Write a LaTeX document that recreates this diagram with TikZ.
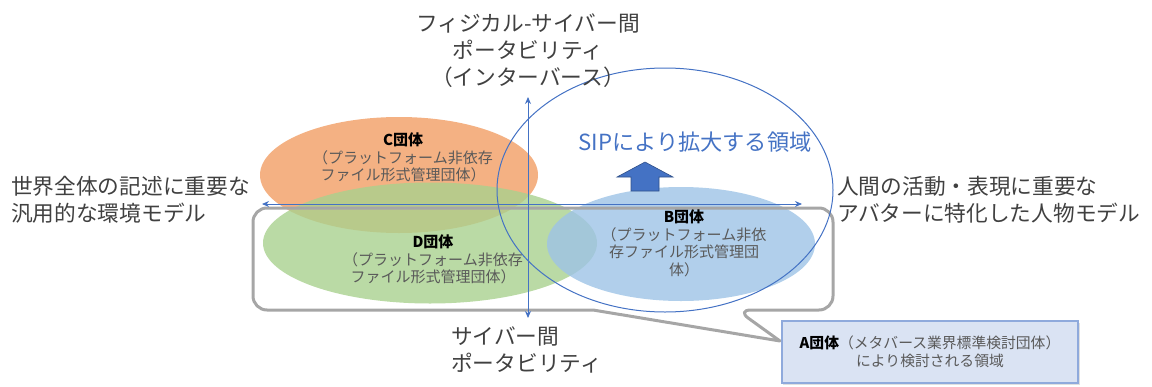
\documentclass[tikz,border=0pt]{standalone}
\usepackage{fontspec}
\setmainfont{Noto Sans CJK JP}
\usetikzlibrary{arrows.meta,shapes.geometric}
\definecolor{axisblue}{HTML}{4472C4}
\definecolor{cfill}{HTML}{F4B183}
\definecolor{dfill}{HTML}{A9D18E}
\definecolor{bfill}{HTML}{9DC3E6}
\definecolor{callgray}{HTML}{A6A6A6}
\definecolor{txt}{HTML}{404040}
\definecolor{subtxt}{HTML}{595959}
\definecolor{abox}{HTML}{DAE3F3}
\definecolor{aboxline}{HTML}{8FAADC}
\tikzset{
  blob/.style={ellipse, inner sep=0pt, draw=none},
  biglabel/.style={inner sep=0pt, text=txt, font=\fontsize{21.7}{26.5}\selectfont},
  smalllabel/.style={inner sep=0pt, text=subtxt, align=center, font=\fontsize{15}{17.6}\selectfont},
  axis/.style={draw=axisblue, line width=0.9pt, {Stealth[length=7pt,width=6pt]}-{Stealth[length=7pt,width=6pt]}},
}
\begin{document}
\begin{tikzpicture}[x=1pt,y=-1pt]
\useasboundingbox (0,0) rectangle (1152,386);
% ellipses
\node[blob, fill=cfill, minimum width=278pt, minimum height=116pt] (C) at (399,175) {};
\node[blob, fill=dfill, fill opacity=0.8, minimum width=334pt, minimum height=121pt] (D) at (430,243) {};
\node[blob, fill=bfill, fill opacity=0.8, minimum width=268pt, minimum height=114pt] (B) at (681,244) {};
% callout
\draw[callgray, line width=3pt, line join=round, line cap=round]
  (593,310) [rounded corners=14pt] -- (253,310) -- (253,208) -- (833,208) -- (833,310) -- (737,310)
  [sharp corners] -- (780,341) -- (593,310);
% SIP circle
\node[ellipse, draw=axisblue, line width=1pt, minimum width=336pt, minimum height=244pt, inner sep=0pt] (SIP) at (665,190) {};
% axes
\coordinate (hl) at (262,204);
\coordinate (hr) at (802,204);
\coordinate (vt) at (528,97);
\coordinate (vb) at (528,318);
\draw[axis] (hl) -- (hr);
\draw[axis] (vt) -- (vb);
% up arrow
\draw[fill=axisblue, draw=axisblue!70!black, line width=0.6pt]
  (631,191) -- (631,177) -- (617,177) -- (645,162) -- (673,177) -- (659,177) -- (659,191) -- cycle;
% labels
\node[inner sep=0pt, text=axisblue, font=\fontsize{22.2}{26}\selectfont] (siptext) at (695,142) {SIPにより拡大する領域};
\node[biglabel, align=center, font=\fontsize{21.7}{27}\selectfont] (top) at (528,51) {フィジカル-サイバー間\\ポータビリティ\\（インターバース）};
\node[biglabel, align=left, anchor=west] (left) at (11,200) {世界全体の記述に重要な\\汎用的な環境モデル};
\node[biglabel, align=left, anchor=west] (right) at (837,200) {人間の活動・表現に重要な\\アバターに特化した人物モデル};
\node[biglabel, align=left, anchor=west] (bottom) at (451,350) {サイバー間\\ポータビリティ};
\node[smalllabel] (Ct) at (403,157.5) {\textcolor{black}{\textbf{C団体}}\\（プラットフォーム非依存\\ファイル形式管理団体）};
\node[smalllabel] (Dt) at (433,259.5) {\textcolor{black}{\textbf{D団体}}\\（プラットフォーム非依存\\ファイル形式管理団体）};
\node[smalllabel] (Bt) at (684,243.5) {\textcolor{black}{\textbf{B団体}}\\（プラットフォーム非依\\存ファイル形式管理団\\体）};
% A box
\fill[black!12] (782.5,322.5) rectangle (1079.5,384.5);
\node[rectangle, fill=abox, draw=aboxline, line width=1.2pt, minimum width=296pt, minimum height=62pt, inner sep=0pt,
  smalllabel, font=\fontsize{14.8}{18}\selectfont] (A) at (930,352)
  {\textcolor{black}{\textbf{A団体}}（メタバース業界標準検討団体）\\により検討される領域};
\end{tikzpicture}
\end{document}
